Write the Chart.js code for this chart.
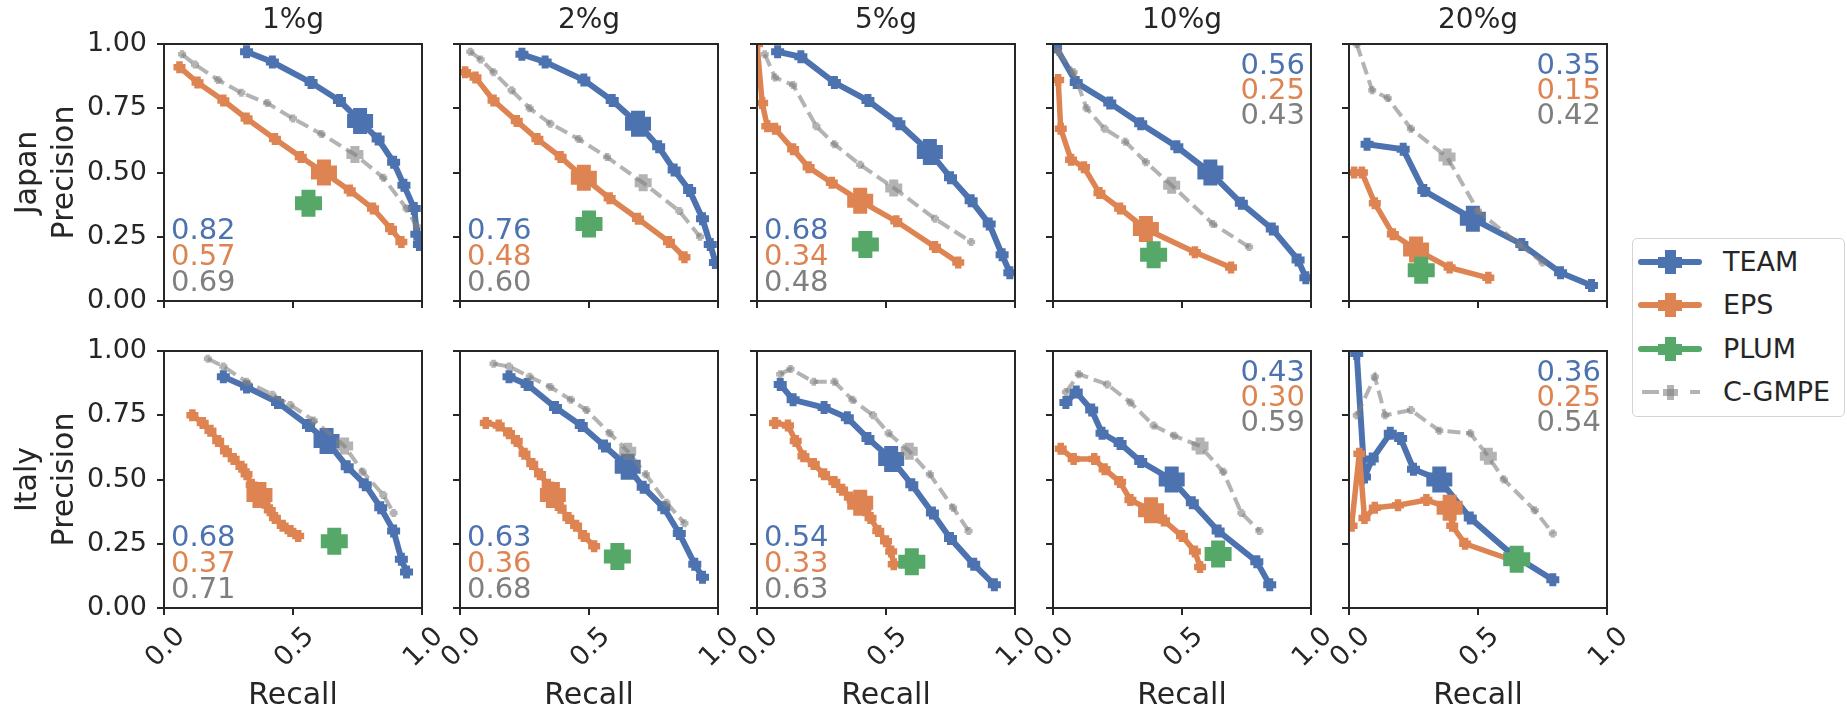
<!DOCTYPE html>
<html>
<head>
<meta charset="utf-8">
<script src="https://cdn.jsdelivr.net/npm/chart.js@4.4.0/dist/chart.umd.min.js"></script>
<style>
  body { margin: 0; background: #fff; width: 1847px; height: 712px; overflow: hidden; position: relative; font-family: 'DejaVu Sans', sans-serif; color: #262626; }
  canvas { position: absolute; }
  .lg { position: absolute; }
</style>
</head>
<body>
<script>
// Panels: columns = ground motion level, rows = region
const levels = ['1%g', '2%g', '5%g', '10%g', '20%g'];
const regions = ['Japan', 'Italy'];
const methods = ['TEAM', 'EPS', 'PLUM', 'C-GMPE'];

// Japan - TEAM
const japanTeamRecall = [
  [0.32, 0.42, 0.57, 0.68, 0.76, 0.83, 0.89, 0.93, 0.97, 0.98, 0.99],
  [0.24, 0.33, 0.48, 0.59, 0.69, 0.77, 0.83, 0.89, 0.94, 0.97, 0.99],
  [0.08, 0.17, 0.30, 0.43, 0.55, 0.67, 0.75, 0.83, 0.90, 0.95, 0.98],
  [0.01, 0.09, 0.22, 0.34, 0.48, 0.61, 0.73, 0.85, 0.95, 0.98],
  [0.07, 0.21, 0.29, 0.48, 0.67, 0.82, 0.94],
];
const japanTeamPrecision = [
  [0.97, 0.93, 0.85, 0.78, 0.70, 0.63, 0.54, 0.45, 0.36, 0.26, 0.22],
  [0.96, 0.93, 0.86, 0.78, 0.69, 0.60, 0.51, 0.43, 0.32, 0.22, 0.15],
  [0.97, 0.95, 0.85, 0.78, 0.69, 0.58, 0.48, 0.39, 0.30, 0.18, 0.11],
  [0.99, 0.85, 0.77, 0.69, 0.60, 0.50, 0.38, 0.28, 0.16, 0.09],
  [0.61, 0.59, 0.43, 0.32, 0.22, 0.11, 0.06],
];
const japanTeamMark = [4, 4, 5, 5, 3];

// Japan - EPS
const japanEpsRecall = [
  [0.06, 0.13, 0.23, 0.32, 0.43, 0.53, 0.62, 0.72, 0.81, 0.88, 0.92],
  [0.02, 0.06, 0.13, 0.22, 0.30, 0.39, 0.48, 0.58, 0.69, 0.81, 0.87],
  [0.00, 0.02, 0.04, 0.07, 0.14, 0.20, 0.29, 0.40, 0.54, 0.69, 0.78],
  [0.02, 0.03, 0.07, 0.12, 0.18, 0.26, 0.36, 0.55, 0.69],
  [0.02, 0.05, 0.10, 0.17, 0.26, 0.39, 0.54],
];
const japanEpsPrecision = [
  [0.91, 0.85, 0.78, 0.71, 0.63, 0.56, 0.50, 0.43, 0.36, 0.28, 0.23],
  [0.89, 0.87, 0.78, 0.70, 0.63, 0.56, 0.48, 0.40, 0.32, 0.23, 0.17],
  [1.00, 0.77, 0.68, 0.67, 0.59, 0.52, 0.46, 0.39, 0.31, 0.21, 0.15],
  [0.86, 0.67, 0.55, 0.52, 0.42, 0.36, 0.28, 0.19, 0.13],
  [0.50, 0.50, 0.38, 0.26, 0.20, 0.13, 0.09],
];
const japanEpsMark = [6, 6, 7, 6, 4];

// Japan - PLUM (single operating point)
const japanPlumRecall = [0.56, 0.50, 0.42, 0.39, 0.28];
const japanPlumPrecision = [0.38, 0.30, 0.22, 0.18, 0.12];

// Japan - C-GMPE
const japanGmpeRecall = [
  [0.07, 0.12, 0.21, 0.30, 0.40, 0.50, 0.61, 0.74, 0.85, 0.94, 0.98],
  [0.04, 0.08, 0.13, 0.20, 0.27, 0.35, 0.46, 0.57, 0.71, 0.85, 0.93],
  [0.03, 0.07, 0.14, 0.23, 0.30, 0.40, 0.53, 0.69, 0.83],
  [0.02, 0.08, 0.13, 0.20, 0.28, 0.36, 0.46, 0.62, 0.76],
  [0.03, 0.09, 0.15, 0.24, 0.38, 0.50, 0.66, 0.75],
];
const japanGmpePrecision = [
  [0.96, 0.92, 0.86, 0.81, 0.77, 0.71, 0.65, 0.57, 0.48, 0.36, 0.29],
  [0.97, 0.94, 0.89, 0.82, 0.75, 0.69, 0.63, 0.56, 0.46, 0.35, 0.25],
  [0.96, 0.87, 0.84, 0.68, 0.61, 0.53, 0.44, 0.32, 0.23],
  [0.97, 0.89, 0.75, 0.67, 0.62, 0.54, 0.45, 0.30, 0.21],
  [1.00, 0.82, 0.79, 0.67, 0.56, 0.35, 0.22, 0.15],
];
const japanGmpeMark = [7, 8, 6, 6, 4];

// Italy - TEAM
const italyTeamRecall = [
  [0.23, 0.32, 0.44, 0.56, 0.63, 0.71, 0.78, 0.84, 0.89, 0.92, 0.94],
  [0.19, 0.26, 0.37, 0.47, 0.56, 0.65, 0.71, 0.79, 0.85, 0.91, 0.94],
  [0.09, 0.14, 0.26, 0.35, 0.43, 0.52, 0.60, 0.68, 0.75, 0.84, 0.92],
  [0.05, 0.09, 0.15, 0.19, 0.26, 0.34, 0.46, 0.54, 0.64, 0.79, 0.84],
  [0.03, 0.06, 0.09, 0.16, 0.20, 0.25, 0.35, 0.47, 0.63, 0.79],
];
const italyTeamPrecision = [
  [0.90, 0.86, 0.80, 0.71, 0.65, 0.55, 0.48, 0.39, 0.30, 0.19, 0.14],
  [0.90, 0.87, 0.78, 0.71, 0.63, 0.55, 0.47, 0.39, 0.29, 0.17, 0.12],
  [0.87, 0.81, 0.78, 0.74, 0.66, 0.58, 0.48, 0.37, 0.27, 0.17, 0.09],
  [0.80, 0.84, 0.77, 0.68, 0.64, 0.57, 0.50, 0.41, 0.30, 0.18, 0.09],
  [0.99, 0.51, 0.58, 0.68, 0.66, 0.54, 0.50, 0.35, 0.21, 0.11],
];
const italyTeamMark = [4, 5, 5, 6, 6];

// Italy - EPS
const italyEpsRecall = [
  [0.11, 0.15, 0.18, 0.21, 0.24, 0.27, 0.30, 0.32, 0.34, 0.37, 0.39, 0.41, 0.43, 0.46, 0.49, 0.52],
  [0.10, 0.15, 0.19, 0.22, 0.25, 0.28, 0.31, 0.34, 0.36, 0.39, 0.42, 0.45, 0.48, 0.52],
  [0.07, 0.12, 0.15, 0.18, 0.22, 0.26, 0.30, 0.33, 0.36, 0.40, 0.42, 0.44, 0.47, 0.50, 0.52, 0.53],
  [0.03, 0.08, 0.16, 0.20, 0.26, 0.30, 0.38, 0.43, 0.50, 0.55, 0.57],
  [0.01, 0.04, 0.06, 0.10, 0.19, 0.30, 0.39, 0.40, 0.45, 0.65],
];
const italyEpsPrecision = [
  [0.75, 0.72, 0.69, 0.65, 0.61, 0.58, 0.55, 0.52, 0.48, 0.44, 0.41, 0.38, 0.35, 0.32, 0.30, 0.28],
  [0.72, 0.71, 0.68, 0.65, 0.60, 0.56, 0.52, 0.48, 0.44, 0.39, 0.35, 0.32, 0.28, 0.24],
  [0.72, 0.71, 0.65, 0.59, 0.56, 0.52, 0.49, 0.46, 0.43, 0.41, 0.38, 0.35, 0.30, 0.26, 0.22, 0.17],
  [0.62, 0.58, 0.58, 0.54, 0.49, 0.42, 0.38, 0.34, 0.28, 0.22, 0.16],
  [0.32, 0.60, 0.35, 0.39, 0.40, 0.42, 0.39, 0.32, 0.25, 0.18],
];
const italyEpsMark = [9, 8, 9, 6, 6];

// Italy - PLUM
const italyPlumRecall = [0.66, 0.61, 0.60, 0.64, 0.65];
const italyPlumPrecision = [0.26, 0.20, 0.18, 0.21, 0.19];

// Italy - C-GMPE
const italyGmpeRecall = [
  [0.17, 0.23, 0.32, 0.42, 0.49, 0.58, 0.70, 0.77, 0.85, 0.89],
  [0.13, 0.19, 0.27, 0.35, 0.43, 0.49, 0.58, 0.65, 0.72, 0.80, 0.87],
  [0.09, 0.13, 0.22, 0.30, 0.37, 0.45, 0.51, 0.59, 0.67, 0.76, 0.82],
  [0.05, 0.10, 0.21, 0.30, 0.39, 0.47, 0.57, 0.66, 0.73, 0.80],
  [0.03, 0.10, 0.14, 0.24, 0.35, 0.47, 0.54, 0.60, 0.72, 0.79],
];
const italyGmpePrecision = [
  [0.97, 0.94, 0.88, 0.83, 0.79, 0.73, 0.63, 0.53, 0.44, 0.37],
  [0.95, 0.94, 0.90, 0.86, 0.81, 0.77, 0.68, 0.61, 0.52, 0.41, 0.33],
  [0.91, 0.93, 0.88, 0.88, 0.81, 0.75, 0.68, 0.61, 0.52, 0.39, 0.30],
  [0.84, 0.91, 0.87, 0.80, 0.71, 0.67, 0.63, 0.53, 0.37, 0.30],
  [0.75, 0.90, 0.75, 0.77, 0.69, 0.68, 0.59, 0.50, 0.38, 0.29],
];
const italyGmpeMark = [6, 7, 7, 6, 6];

// area under curve, printed in each panel
const japanTeamAuc = ['0.82', '0.76', '0.68', '0.56', '0.35'];
const japanEpsAuc = ['0.57', '0.48', '0.34', '0.25', '0.15'];
const japanGmpeAuc = ['0.69', '0.60', '0.48', '0.43', '0.42'];
const italyTeamAuc = ['0.68', '0.63', '0.54', '0.43', '0.36'];
const italyEpsAuc = ['0.37', '0.36', '0.33', '0.30', '0.25'];
const italyGmpeAuc = ['0.71', '0.68', '0.63', '0.59', '0.54'];

const yTicks = [0, 0.25, 0.5, 0.75, 1];
const xTicks = [0, 0.5, 1];

// styling
const ink = '#262626';
const blue = '#4C72B0';
const orange = '#DD8452';
const green = '#55A868';
const grey = 'rgba(128,128,128,0.6)';
const greyText = '#7f7f7f';
Chart.defaults.font.family = "'DejaVu Sans'";
Chart.defaults.color = ink;

const rows = [
  { team: [japanTeamRecall, japanTeamPrecision, japanTeamMark], eps: [japanEpsRecall, japanEpsPrecision, japanEpsMark],
    plum: [japanPlumRecall, japanPlumPrecision], gmpe: [japanGmpeRecall, japanGmpePrecision, japanGmpeMark],
    auc: [japanTeamAuc, japanEpsAuc, japanGmpeAuc] },
  { team: [italyTeamRecall, italyTeamPrecision, italyTeamMark], eps: [italyEpsRecall, italyEpsPrecision, italyEpsMark],
    plum: [italyPlumRecall, italyPlumPrecision], gmpe: [italyGmpeRecall, italyGmpePrecision, italyGmpeMark],
    auc: [italyTeamAuc, italyEpsAuc, italyGmpeAuc] },
];

// frame around every axes (matplotlib style spines)
const frame = {
  id: 'frame',
  afterDatasetsDraw(chart) {
    const { ctx, chartArea: a } = chart;
    ctx.save();
    ctx.strokeStyle = ink;
    ctx.lineWidth = 2;
    ctx.strokeRect(a.left, a.top, a.right - a.left, a.bottom - a.top);
    ctx.restore();
  }
};

// score numbers in a corner of each panel
const aucLabels = {
  id: 'aucLabels',
  afterDraw(chart, args, opts) {
    const { ctx, chartArea: a } = chart;
    ctx.save();
    ctx.font = "29px 'DejaVu Sans'";
    ctx.textBaseline = 'alphabetic';
    const drop = 10.5; // baseline below digit centre
    opts.values.forEach((v, i) => {
      ctx.fillStyle = opts.colors[i];
      if (opts.corner === 'top') {
        ctx.textAlign = 'right';
        ctx.fillText(v, a.right - 6, a.top + 19 + 25 * i + drop);
      } else {
        ctx.textAlign = 'left';
        ctx.fillText(v, a.left + 7, a.bottom - 73 + 26 * i + drop);
      }
    });
    ctx.restore();
  }
};

function pts(xs, ys) {
  return xs.map((x, i) => ({ x: x, y: ys[i] }));
}

function curve(label, xs, ys, mark, color, s) {
  return {
    label: label,
    data: pts(xs, ys),
    borderColor: color,
    borderWidth: s.line,
    borderDash: s.dash || [],
    pointStyle: 'cross',
    pointBorderColor: color,
    pointBackgroundColor: color,
    pointRadius: ctx => ctx.dataIndex === mark ? s.big : s.small,
    pointBorderWidth: ctx => ctx.dataIndex === mark ? s.bigW : s.smallW,
    tension: 0,
    fill: false,
    clip: 0,
    order: s.order,
  };
}

const panelLeft = [164, 460, 757, 1053, 1349];

function makePanel(r, c) {
  const row = rows[r];
  const padL = c === 0 ? 164 : 40;
  const canvas = document.createElement('canvas');
  canvas.width = padL + 258 + 32;
  canvas.height = r === 0 ? 331 : 391;
  canvas.style.left = (panelLeft[c] - padL) + 'px';
  canvas.style.top = (r === 0 ? 0 : 321) + 'px';
  document.body.appendChild(canvas);

  const datasets = [
    curve('TEAM', row.team[0][c], row.team[1][c], row.team[2][c], blue,
      { line: 6, small: 6.5, smallW: 7, big: 13, bigW: 14, order: 3 }),
    curve('EPS', row.eps[0][c], row.eps[1][c], row.eps[2][c], orange,
      { line: 5.5, small: 6, smallW: 6.5, big: 13, bigW: 14, order: 2 }),
    {
      label: 'PLUM',
      data: [{ x: row.plum[0][c], y: row.plum[1][c] }],
      showLine: false,
      pointStyle: 'cross',
      pointBorderColor: green,
      pointBackgroundColor: green,
      pointRadius: 13.5,
      pointBorderWidth: 14,
      clip: 0,
      order: 1,
    },
    curve('C-GMPE', row.gmpe[0][c], row.gmpe[1][c], row.gmpe[2][c], grey,
      { line: 4, dash: [13, 6], small: 4, smallW: 4.5, big: 8.5, bigW: 9, order: 0 }),
  ];

  const gridOpts = { display: true, drawOnChartArea: false, drawTicks: true, tickLength: 7, color: ink, lineWidth: 2 };

  new Chart(canvas, {
    type: 'line',
    data: { datasets: datasets },
    options: {
      responsive: false,
      animation: false,
      devicePixelRatio: 1,
      events: [],
      layout: { padding: { left: c === 0 ? 0 : 30, right: 32, top: r === 0 ? 0 : 30, bottom: 0 } },
      plugins: {
        legend: { display: false },
        tooltip: { enabled: false },
        title: {
          display: r === 0,
          text: levels[c],
          fullSize: false,
          color: ink,
          font: { size: 28, weight: 'normal', lineHeight: 1.2 },
          padding: { top: 4, bottom: 6.4 },
        },
        aucLabels: {
          values: row.auc.map(a => a[c]),
          colors: [blue, orange, greyText],
          corner: c >= 3 ? 'top' : 'bottom',
        },
      },
      scales: {
        x: {
          type: 'linear',
          min: 0,
          max: 1,
          border: { display: false },
          grid: gridOpts,
          afterBuildTicks: s => { s.ticks = xTicks.map(v => ({ value: v })); },
          ticks: {
            display: r === 1,
            autoSkip: false,
            minRotation: 45,
            maxRotation: 45,
            labelOffset: 17,
            padding: 6,
            color: ink,
            font: { size: 27 },
            callback: v => v.toFixed(1),
          },
          title: {
            display: r === 1,
            text: 'Recall',
            color: ink,
            font: { size: 30, lineHeight: 1 },
            padding: { top: 0, bottom: 1 },
          },
          afterFit: s => { s.height = r === 0 ? 30 : 104; },
        },
        y: {
          type: 'linear',
          min: 0,
          max: 1,
          border: { display: false },
          grid: gridOpts,
          afterBuildTicks: s => { s.ticks = yTicks.map(v => ({ value: v })); },
          ticks: {
            display: c === 0,
            padding: 10,
            color: ink,
            font: { size: 27 },
            callback: v => v.toFixed(2),
          },
          title: {
            display: c === 0,
            text: [regions[r], 'Precision'],
            color: ink,
            font: { size: 30, lineHeight: 1.22 },
            padding: { top: 10, bottom: 0 },
          },
          afterFit: s => { s.width = c === 0 ? 164 : 10; },
        },
      },
    },
    plugins: [frame, aucLabels],
  });
}

for (let r = 0; r < 2; r++) {
  for (let c = 0; c < 5; c++) makePanel(r, c);
}

// Legend
function box(left, top, w, h, color, radius) {
  const d = document.createElement('div');
  d.className = 'lg';
  d.style.cssText = `left:${left}px;top:${top}px;width:${w}px;height:${h}px;background:${color};border-radius:${radius || 0}px`;
  document.body.appendChild(d);
  return d;
}
const lg = box(1632, 238, 211, 177, '#fff', 5);
lg.style.border = '1px solid #d4d4d4';

const legendColors = [blue, orange, green, grey];
methods.forEach((name, i) => {
  const cy = Math.round(262 + 43.4 * i);
  const col = legendColors[i];
  if (name === 'C-GMPE') {
    box(1642, cy - 2, 17, 4, col);
    box(1690, cy - 2, 10, 4, col);
    box(1670 - 3.5, cy - 7.5, 7, 15, col);
    box(1670 - 7.5, cy - 3.5, 15, 7, col);
  } else {
    box(1638, cy - 3, 64, 6, col, 3);
    box(1670 - 5.5, cy - 12, 11, 24, col);
    box(1670 - 12, cy - 5.5, 24, 11, col);
  }
  const t = document.createElement('div');
  t.className = 'lg';
  t.textContent = name;
  t.style.cssText = `left:1723px;top:${cy - 17}px;height:34px;line-height:34px;font-size:27px;color:${ink};white-space:nowrap`;
  document.body.appendChild(t);
});
</script>
</body>
</html>
